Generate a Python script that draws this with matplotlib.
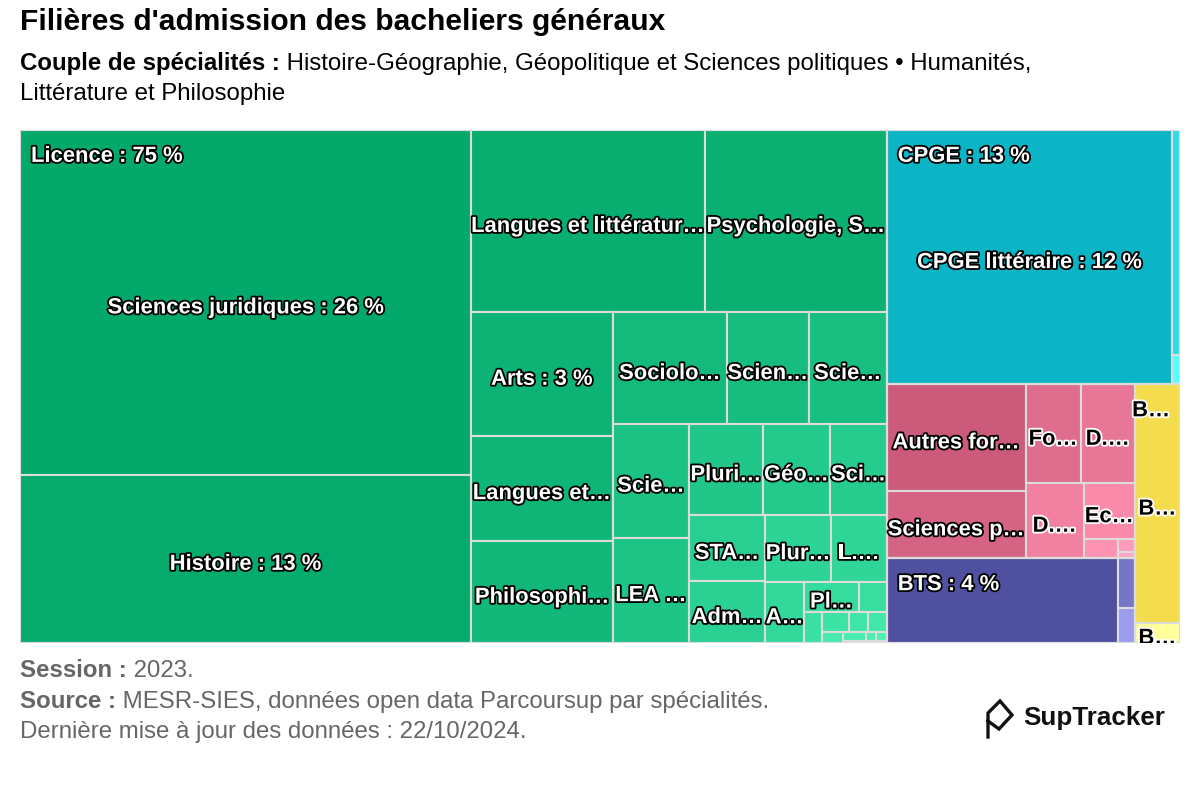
import matplotlib
matplotlib.use("Agg")
import matplotlib.pyplot as plt
from matplotlib.patches import Rectangle
from matplotlib.lines import Line2D
import matplotlib.patheffects as pe
from matplotlib.font_manager import FontProperties
import math

# ------------------------------------------------------------------ data
title = "Filières d'admission des bacheliers généraux"
subtitle_bold = "Couple de spécialités :"
subtitle_l1 = " Histoire-Géographie, Géopolitique et Sciences politiques • Humanités,"
subtitle_l2 = "Littérature et Philosophie"

group_names = ["Licence", "CPGE", "Autres formations", "BTS", "BUT"]

licence_names = [
    "Sciences juridiques", "Histoire", "Langues et littératures étrangères",
    "Psychologie, Sciences cognitives", "Arts", "Langues et cultures régionales",
    "Philosophie", "Sociologie", "Sciences de l'éducation", "Sciences politiques",
    "Sciences sociales", "LEA - Langues étrangères appliquées",
    "Pluridisciplinaire Lettres, Langues", "Géographie", "Sciences du langage",
    "STAPS", "Administration économique et sociale",
    "Pluridisciplinaire Sciences humaines", "L.AS - Licence Accès Santé",
    "Archéologie, ethnologie", "Pluridisciplinaire Arts",
    "Musicologie", "Théologie", "Économie, gestion",
    "Mathématiques", "Sciences de la vie", "Informatique", "Physique, chimie",
    "Sciences de la Terre", "Électronique", "Mécanique",
]
licence_values = [
    26.15, 12.73, 7.16, 5.57, 2.94, 2.51, 2.43, 2.15, 1.54, 1.47, 1.45, 1.35,
    1.12, 1.03, 0.86, 0.85, 0.79, 0.74, 0.63, 0.40, 0.27, 0.14, 0.094, 0.094,
    0.067, 0.064, 0.038, 0.036, 0.016, 0.016, 0.012,
]

cpge_names = ["CPGE littéraire", "CPGE économique", "CPGE scientifique"]
cpge_values = [12.2, 0.30, 0.04]

autres_names = [
    "Autres formations", "Sciences politiques - IEP", "Formations d'ingénieurs",
    "D.E secteur sanitaire", "D.E secteur social", "Ecole de commerce",
    "Formations artistiques", "DN MADE", "DCG",
]
autres_values = [2.48, 1.58, 0.915, 0.90, 0.73, 0.48, 0.11, 0.037, 0.017]

bts_names = ["BTS Services", "BTS Production", "BTS Agricole"]
bts_values = [3.285, 0.143, 0.10]

but_names = ["BUT Services", "BUT Production"]
but_values = [1.815, 0.151]

footer_session = ("Session :", " 2023.")
footer_source = ("Source :", " MESR-SIES, données open data Parcoursup par spécialités.")
footer_update = "Dernière mise à jour des données : 22/10/2024."
brand = "SupTracker"

# ------------------------------------------------------------------ style
group_colors = ["#03a86b", "#0cb5c5", "#cc5a7a", "#5050a0", "#f4dc4f"]
group_variation = 0.3
group_show_header = [True, True, False, True, True]
group_dark_text_from = [None, None, 2, None, 0]   # index from which labels are dark
group_hide_first_leaf_label = [False, False, False, True, False]

W, H = 1200, 800
PX0, PY0, PX1, PY1 = 20, 130, 1180, 643
LABEL_PX = 22
FONT = "Liberation Sans"


def pt(px):
    return px * 72.0 / 100.0


# ------------------------------------------------- Highcharts-like squarify
class _Group:
    def __init__(self, h, w, d):
        self.height, self.width, self.direction = h, w, d
        self.total = 0.0
        self.nW = self.lW = self.nH = self.lH = 0.0
        self.elArr = []
        self.nR = float("nan")
        self.lR = float("nan")

    @staticmethod
    def _ar(a, b):
        return max(a / b, b / a)

    def add(self, el):
        last = self.elArr[-1] if self.elArr else None
        self.total += el
        if self.direction == 0:
            self.lW = self.nW
            self.nW = self.total / self.height
            if last is not None and self.lW > 0:
                lH = last / self.lW
                self.lR = self._ar(self.lW, lH)
                nH = last / self.nW
                self.nR = self._ar(self.nW, nH)
            else:
                self.lR = self.nR = float("nan")
        else:
            self.lH = self.nH
            self.nH = self.total / self.width
            if last is not None and self.lH > 0:
                lW = last / self.lH
                self.lR = self._ar(lW, self.lH)
                nW = last / self.nH
                self.nR = self._ar(nW, self.nH)
            else:
                self.lR = self.nR = float("nan")
        self.elArr.append(el)

    def reset(self):
        self.nW = self.lW = 0.0
        self.elArr = []
        self.total = 0.0


def _calc_points(last, g, out, plot, parent):
    px, py, pw, ph = parent
    gW, gH = (g.nW, g.nH) if last else (g.lW, g.lH)
    keep = None if last else g.elArr[-1]
    end = len(g.elArr) - 1
    for i, p in enumerate(g.elArr):
        if last or i < end:
            if g.direction == 0:
                rw = gW
                rh = p / rw
            else:
                rh = gH
                rw = p / rh
            out.append((plot[0], plot[1], rw, rh))
            if g.direction == 0:
                plot[1] += rh
            else:
                plot[0] += rw
    g.reset()
    if g.direction == 0:
        g.width -= gW
    else:
        g.height -= gH
    plot[1] = py + (ph - g.height)
    plot[0] = px + (pw - g.width)
    g.direction = 1 - g.direction
    if not last:
        g.add(keep)


def squarified(values, x, y, w, h, direction=0):
    total = float(sum(values))
    out = []
    plot = [x, y]
    g = _Group(h, w, direction)
    n = len(values)
    for i, v in enumerate(values):
        g.add(w * h * v / total)
        if g.nR > g.lR:
            _calc_points(False, g, out, plot, (x, y, w, h))
        if i == n - 1:
            _calc_points(True, g, out, plot, (x, y, w, h))
    return out


def brighten(hexcol, amount):
    hexcol = hexcol.lstrip("#")
    rgb = [int(hexcol[i:i + 2], 16) for i in (0, 2, 4)]
    rgb = [min(255, max(0, c + int(amount * 255))) for c in rgb]
    return "#%02x%02x%02x" % tuple(rgb)


# ------------------------------------------------------------------ figure
fig = plt.figure(figsize=(W / 100, H / 100), dpi=100)
fig.patch.set_facecolor("white")
ax = fig.add_axes([PX0 / W, 1 - PY1 / H, (PX1 - PX0) / W, (PY1 - PY0) / H])
ax.set_xlim(0, PX1 - PX0)
ax.set_ylim(PY1 - PY0, 0)
ax.axis("off")

renderer = fig.canvas.get_renderer()
fp_label = FontProperties(family=FONT, weight="bold", size=pt(LABEL_PX))


def text_w(s, fp):
    w, h, d = renderer.get_text_width_height_descent(s, fp, ismath=False)
    return w


def fit(text, avail, fp):
    if text_w(text, fp) <= avail:
        return text
    for k in range(len(text) - 1, 0, -1):
        t = text[:k] + "…"
        if text_w(t, fp) <= avail:
            return t
    return None


groups = [
    (licence_names, licence_values),
    (cpge_names, cpge_values),
    (autres_names, autres_values),
    (bts_names, bts_values),
    (but_names, but_values),
]
group_totals = [sum(v) for _, v in groups]
grand_total = sum(group_totals)

order = sorted(range(len(groups)), key=lambda i: -group_totals[i])
top_rects = squarified([group_totals[i] for i in order], 0, 0,
                       PX1 - PX0, PY1 - PY0)

edge = "#dcdcdc"
AX_W = PX1 - PX0


def draw_label(x, y, s, dark, ha="center"):
    fc = "#000000" if dark else "#ffffff"
    oc = "#ffffff" if dark else "#000000"
    ax.text(x, y, s, fontproperties=fp_label, color=fc, ha=ha, va="baseline",
            clip_on=True, zorder=5,
            path_effects=[pe.withStroke(linewidth=2.6, foreground=oc)])


cap_half = 0.716 * LABEL_PX / 2
for gi, (rx, ry, rw, rh) in zip(order, top_rects):
    names, vals = groups[gi]
    idx = sorted(range(len(vals)), key=lambda i: -vals[i])
    child_rects = squarified([vals[i] for i in idx], rx, ry, rw, rh)
    nsib = len(idx)
    for k, (i, (cx, cy, cw, ch)) in enumerate(zip(idx, child_rects)):
        col = group_colors[gi]
        if k and nsib > 1:
            col = brighten(col, group_variation * k / (nsib - 1))
        ax.add_patch(Rectangle((cx, cy), cw, ch, facecolor=col, edgecolor=edge,
                               linewidth=1.5, zorder=2))
        if k == 0 and group_hide_first_leaf_label[gi]:
            continue
        if ch < 14:
            continue
        pct = int(math.floor(vals[i] / grand_total * 100 + 0.5))
        s = fit(f"{names[i]} : {pct} %", cw, fp_label)
        if s is None:
            continue
        dark = group_dark_text_from[gi] is not None and k >= group_dark_text_from[gi]
        draw_label(cx + cw / 2, cy + ch / 2 + cap_half + 3, s, dark)
    ax.add_patch(Rectangle((rx, ry), rw, rh, facecolor="none", edgecolor=edge,
                           linewidth=1.5, zorder=3))
    if group_show_header[gi]:
        pct = int(math.floor(group_totals[gi] / grand_total * 100 + 0.5))
        s = fit(f"{group_names[gi]} : {pct} %", rw, fp_label)
        if s:
            tw = text_w(s, fp_label)
            hx = min(rx + 11, AX_W - tw - 10)
            dark = group_dark_text_from[gi] == 0
            draw_label(hx, ry + 24 + cap_half, s, dark, ha="left")

# ------------------------------------------------------------------ texts
def fx(px):
    return px / W


def fy(py):
    return 1 - py / H


fp_title = FontProperties(family=FONT, weight="bold", size=pt(30))
fp_sub_b = FontProperties(family=FONT, weight="bold", size=pt(24))
fp_sub = FontProperties(family=FONT, size=pt(24))

fig.text(fx(20), fy(30), title, fontproperties=fp_title, color="#000000",
         va="baseline", ha="left")
fig.text(fx(20), fy(70), subtitle_bold, fontproperties=fp_sub_b, color="#000000",
         va="baseline")
bw = text_w(subtitle_bold, fp_sub_b)
fig.text(fx(20 + bw), fy(70), subtitle_l1, fontproperties=fp_sub, color="#000000",
         va="baseline")
fig.text(fx(20), fy(100), subtitle_l2, fontproperties=fp_sub, color="#000000",
         va="baseline")

gray = "#666666"
for (b, r), base in ((footer_session, 677), (footer_source, 708)):
    fig.text(fx(20), fy(base), b, fontproperties=fp_sub_b, color=gray, va="baseline")
    fig.text(fx(20 + text_w(b, fp_sub_b)), fy(base), r, fontproperties=fp_sub,
             color=gray, va="baseline")
fig.text(fx(20), fy(738), footer_update, fontproperties=fp_sub, color=gray,
         va="baseline")

# brand logo
logo_x = [988, 988, 1000, 1012, 999, 988]
logo_y = [737, 713, 701, 715, 729, 721]
fig.add_artist(Line2D([fx(v) for v in logo_x], [fy(v) for v in logo_y],
                      color="#111111", linewidth=2.4, solid_joinstyle="miter",
                      transform=fig.transFigure))
fig.text(fx(1023), fy(725), brand,
         fontproperties=FontProperties(family=FONT, weight="bold", size=pt(26)),
         color="#111111", va="baseline")

fig.savefig("out.png", dpi=100, facecolor="white")
